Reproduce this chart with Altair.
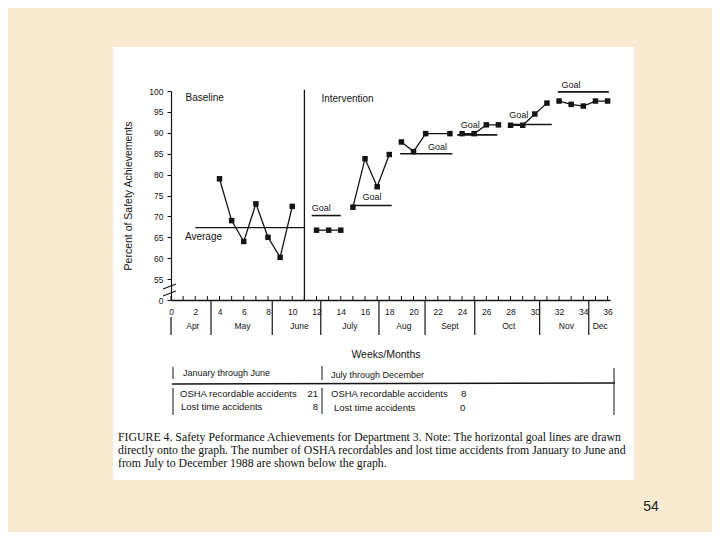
import altair as alt
import pandas as pd

# ---------------- data ----------------
base_weeks = [4, 5, 6, 7, 8, 9, 10]
base_vals = [79.0, 69.0, 64.0, 73.0, 65.0, 60.2, 72.4]

int_weeks = [12, 13, 14, 15, 16, 17, 18, 19, 20, 21, 23, 24, 25, 26, 27,
             28, 29, 30, 31, 32, 33, 34, 35, 36]
int_vals = [66.7, 66.7, 66.7, 72.2, 83.8, 77.1, 84.8, 87.8, 85.5, 89.8, 89.8,
            89.8, 89.8, 91.9, 91.9, 91.8, 91.8, 94.5, 97.1, 97.6, 96.8, 96.4,
            97.6, 97.6]
int_segments = [1, 1, 1, 2, 2, 2, 2, 3, 3, 3, 3, 4, 4, 4, 4, 5, 5, 5, 5,
                6, 6, 6, 6, 6]

goal_start = [11.6, 14.9, 18.9, 23.6, 27.8, 31.9]
goal_end = [14.0, 18.2, 23.2, 26.9, 31.4, 36.1]
goal_vals = [70.2, 72.6, 85.0, 89.5, 92.0, 99.8]
goal_label_weeks = [11.6, 15.8, 21.2, 23.9, 27.9, 32.2]
goal_label_vals = [72.1, 74.6, 86.6, 91.8, 94.2, 101.4]

average_start, average_end, average_val = 2.0, 11.0, 67.3
phase_change_week = 11.0

annot_text = ["Baseline", "Intervention", "Average"]
annot_weeks = [1.2, 12.4, 1.15]
annot_vals = [98.3, 98.1, 65.1]

y_ticks = [50, 55, 60, 65, 70, 75, 80, 85, 90, 95, 100]
week_ticks = list(range(0, 37, 2))
all_weeks = list(range(0, 37))
month_names = ["Apr", "May", "June", "July", "Aug", "Sept", "Oct", "Nov", "Dec"]
month_label_weeks = [1.8, 5.9, 10.6, 14.75, 19.2, 23.0, 27.85, 32.6, 35.4]
month_bounds = [3.3, 8.35, 12.35, 17.15, 20.95, 25.05, 30.4, 34.45]
first_month_bound = 0

caption_lines = [
    "FIGURE 4. Safety Peformance Achievements for Department 3. Note: The horizontal goal lines are drawn",
    "directly onto the graph. The number of OSHA recordables and lost time accidents from January to June and",
    "from July to December 1988 are shown below the graph.",
]
table_head = ["January through June", "July through December"]
table_rows = ["OSHA recordable accidents", "Lost time accidents"]
table_first = ["21", "8"]
table_second = ["8", "0"]

# ---------------- layout ----------------
SANS = "Liberation Sans"
SERIF = "Liberation Serif"
INK = "#141414"
W, H = 439, 209
X0, Y0 = 171, 91  # page position of plot origin

one = pd.DataFrame({"k": [0]})

xs = alt.Scale(domain=[0, 36.2], nice=False, zero=False)
ys = alt.Scale(domain=[50, 100], nice=False, zero=False)
xaxis = alt.Axis(values=week_ticks, tickSize=0, labelPadding=7, labelFontSize=8.5,
                 labelFont=SANS, labelColor=INK, domainColor=INK, domainWidth=1.3,
                 grid=False, title=None, labelFlush=False, zindex=2)
yaxis = alt.Axis(values=y_ticks, tickSize=4, labelPadding=4, labelFontSize=8.5,
                 labelFont=SANS, labelColor=INK, domainColor=INK, domainWidth=1.2,
                 tickColor=INK, grid=False, title="Percent of Safety Achievements",
                 titleFont=SANS, titleFontSize=10.5, titleFontWeight="normal",
                 titleColor=INK, titlePadding=15, zindex=2,
                 labelExpr="datum.value == 50 ? '0' : datum.label")


def X(f):
    return alt.X(f, type="quantitative", scale=xs, axis=xaxis)


def Y(f):
    return alt.Y(f, type="quantitative", scale=ys, axis=yaxis)


def rule(x1, y1, x2, y2, w=1.0, color=INK):
    return alt.Chart(one).mark_rule(strokeWidth=w, color=color).encode(
        x=alt.value(x1 - X0), x2=alt.value(x2 - X0),
        y=alt.value(y1 - Y0), y2=alt.value(y2 - Y0))


def label(text, x, y, size, align="left", font=SANS, color=INK):
    return alt.Chart(one).mark_text(text=text, align=align, baseline="middle",
                                    fontSize=size, font=font, color=color).encode(
        x=alt.value(x - X0), y=alt.value(y - Y0))


layers = []

# white paper panel
layers.append(alt.Chart(one).mark_rect(color="white").encode(
    x=alt.value(113 - X0), x2=alt.value(634 - X0),
    y=alt.value(47 - Y0), y2=alt.value(480 - Y0)))

# data lines and points
pts = pd.DataFrame({
    "week": base_weeks + int_weeks,
    "val": base_vals + int_vals,
    "seg": [0] * len(base_weeks) + int_segments,
})
layers.append(alt.Chart(pts).mark_line(color=INK, strokeWidth=1.3).encode(
    x=X("week"), y=Y("val"), detail="seg:N"))
layers.append(alt.Chart(pts).mark_square(color=INK, size=30, opacity=1).encode(
    x=X("week"), y=Y("val")))

# goal lines
goals = pd.DataFrame({"start": goal_start, "end": goal_end, "val": goal_vals})
layers.append(alt.Chart(goals).mark_rule(color=INK, strokeWidth=1.6).encode(
    x=X("start"), x2="end", y=Y("val")))
gl = pd.DataFrame({"week": goal_label_weeks, "val": goal_label_vals, "t": ["Goal"] * 6})
layers.append(alt.Chart(gl).mark_text(align="left", baseline="middle", fontSize=9,
                                      font=SANS, color=INK).encode(
    x=X("week"), y=Y("val"), text="t"))

# average line
avg = pd.DataFrame({"start": [average_start], "end": [average_end], "val": [average_val]})
layers.append(alt.Chart(avg).mark_rule(color=INK, strokeWidth=1.3).encode(
    x=X("start"), x2="end", y=Y("val")))

# phase change line
ph = pd.DataFrame({"week": [phase_change_week], "top": [100.3], "bot": [50]})
layers.append(alt.Chart(ph).mark_rule(color=INK, strokeWidth=1.3).encode(
    x=X("week"), y=Y("top"), y2="bot"))

# annotations
an = pd.DataFrame({"week": annot_weeks, "val": annot_vals, "t": annot_text})
layers.append(alt.Chart(an).mark_text(align="left", baseline="middle", fontSize=10,
                                      font=SANS, color=INK).encode(
    x=X("week"), y=Y("val"), text="t"))

# minor week ticks (pointing up)
wk = pd.DataFrame({"week": all_weeks})
layers.append(alt.Chart(wk).mark_rule(color=INK, strokeWidth=1).encode(
    x=X("week"), y=alt.value(H), y2=alt.value(H - 4)))

# month separators and labels
mb = pd.DataFrame({"week": month_bounds})
layers.append(alt.Chart(mb).mark_rule(color=INK, strokeWidth=1.2).encode(
    x=X("week"), y=alt.value(H), y2=alt.value(H + 35)))
mb0 = pd.DataFrame({"week": [first_month_bound]})
layers.append(alt.Chart(mb0).mark_rule(color=INK, strokeWidth=1.2).encode(
    x=X("week"), y=alt.value(H + 17), y2=alt.value(H + 35)))
ml = pd.DataFrame({"week": month_label_weeks, "m": month_names})
layers.append(alt.Chart(ml).mark_text(align="center", baseline="middle", fontSize=8.5,
                                      font=SANS, color=INK).encode(
    x=X("week"), y=alt.value(326 - Y0), text="m"))

# axis break on y axis
layers.append(alt.Chart(one).mark_rect(color="white").encode(
    x=alt.value(169 - X0), x2=alt.value(173 - X0),
    y=alt.value(287 - Y0), y2=alt.value(294 - Y0)))
layers.append(rule(163, 289, 176, 284, 1.2))
layers.append(rule(163, 296, 176, 291, 1.2))

# x title
layers.append(label("Weeks/Months", 386, 355, 10.5, align="center"))

# table below the graph
layers += [
    rule(172, 384, 615, 383, 1.5),
    rule(173, 367, 173, 379), rule(173, 388, 173, 415),
    rule(322, 366, 322, 380), rule(322, 388, 322, 414),
    rule(614, 368, 614, 415),
    label(table_head[0], 183, 373, 9),
    label(table_head[1], 331, 375, 9),
    label(table_rows[0], 180, 394, 9.5),
    label(table_first[0], 318, 394, 9.5, align="right"),
    label(table_rows[1], 181, 407, 9.5),
    label(table_first[1], 318, 407, 9.5, align="right"),
    label(table_rows[0], 331, 394, 9.5),
    label(table_second[0], 461, 394, 9.5),
    label(table_rows[1], 334, 408, 9.5),
    label(table_second[1], 460, 408, 9.5),
]

# caption
for i, line in enumerate(caption_lines):
    layers.append(label(line, 118, 437 + 13 * i, 11.8, font=SERIF, color="#111"))

# page number
layers.append(label("54", 651, 507, 14, align="center", color="#222"))

chart = alt.layer(*layers).properties(
    width=W, height=H,
    padding={"left": X0 - 8, "top": Y0 - 8, "right": 704 - (X0 - 8) - W,
             "bottom": 524 - (Y0 - 8) - H},
    autosize=alt.AutoSizeParams(type="none"),
    background="#F9EBD2",
).configure_view(stroke=None)

chart.save("out.html", embed_options={"renderer": "svg", "actions": False})
